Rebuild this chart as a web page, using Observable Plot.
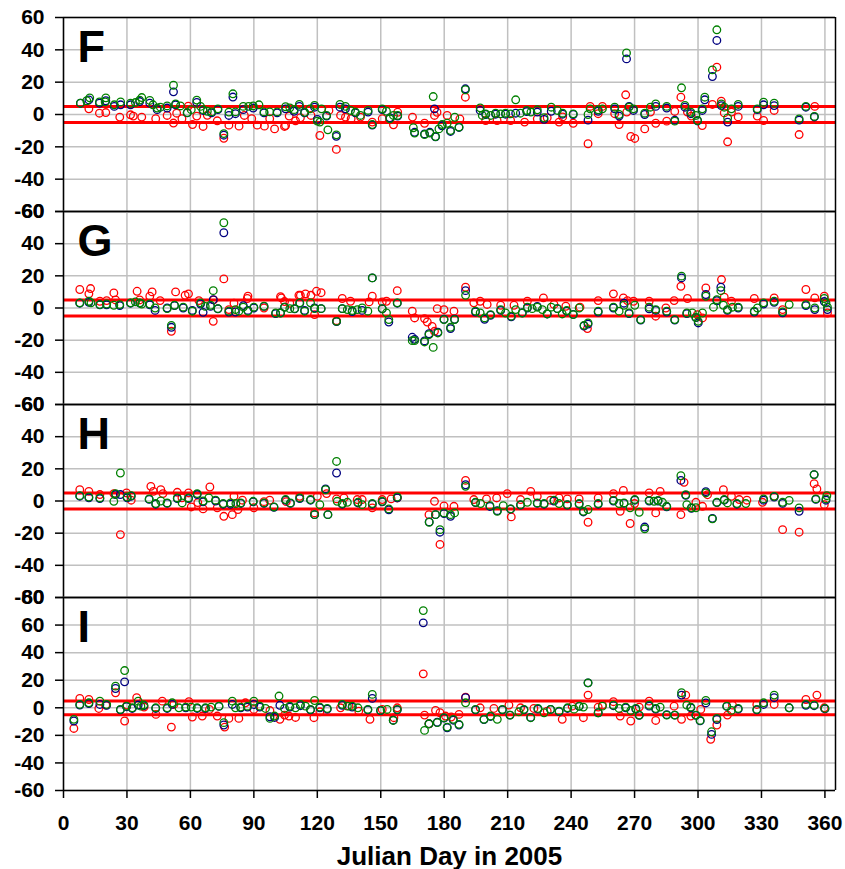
<!DOCTYPE html>
<html>
<head>
<meta charset="utf-8">
<script src="https://cdn.jsdelivr.net/npm/d3@7"></script>
<script src="https://cdn.jsdelivr.net/npm/@observablehq/plot@0.6"></script>
<style>
  body { margin: 0; background: #fff; }
  #chart { position: relative; width: 845px; height: 869px; overflow: hidden; background: #fff; }
  #chart svg { position: absolute; left: 0; }
</style>
</head>
<body>
<div id="chart"></div>
<script>
// Daily differences [Julian day, value] for stations F, G, H, I (three series each)
const F_red = [[12,3.5],[17,0.8],[20,1.2],[26.6,-1.6],[31.7,-0.2],[33,-1],[37,-1.6],[43.6,-2.6],[49,-0.6],[52,-5.3],[53.5,0.8],[56,-2.6],[59,5.2],[61,-6.2],[63,-1],[66,-7.4],[68,-0.5],[72.7,-3.9],[75.8,-14.7],[78.2,-6.6],[83,-7.2],[85.5,-0.6],[89,-2.6],[91.6,-6.6],[95,-7.2],[97.5,-2.6],[99.8,-8.9],[104.5,-7.4],[105,-6.8],[106.7,-1],[109.7,-3.9],[112,-2],[117,-0.6],[121.2,-13],[125.5,2.5],[129,-21.6],[131,-0.6],[133.3,-1.6],[136,-2.6],[140.4,-1.6],[146,-4.7],[150.7,-2.6],[156,-6.4],[158,1.4],[165,-1.6],[170.7,-5.4],[175.4,-0.6],[176.6,1.4],[181.4,-0.6],[187.4,-2.7],[190,10.7],[199.6,-3.7],[205,-3.7],[211.4,-3.7],[218,-4.7],[224,-2.7],[228.7,-2],[234.3,-4.7],[236,-1.5],[241,-5.4],[248,-18.1],[249,5],[252.8,0.5],[254.8,5],[260.6,0.5],[262.7,-6.2],[265.8,12.2],[266.3,1.5],[268.2,-13.6],[270.1,-14.8],[274.8,-8.9],[277.5,1.5],[280,-5.4],[285.2,-4.1],[289,1.9],[291.9,10.7],[295,1.5],[296.8,-1],[302,-6.8],[306.8,6.2],[308.9,29.3],[311,8.3],[312.4,1],[314,-16.9],[315.8,1.5],[319,-1.5],[328,-1],[331,-3.7],[336,2.5],[347.8,-12.4],[355.2,5]];
const F_blue = [[8,7],[12,9],[17,7],[20,8.5],[24,5],[27,6],[31.7,6],[36,8],[40.8,7],[44.3,3],[49,4],[52,14],[53,6],[58.5,1],[63,7.5],[66,2.5],[70,1],[73,3],[75.8,-12.8],[78.2,-0.6],[80.1,10.8],[81.3,0.5],[85,3],[89.7,4],[94.8,1],[101,1],[105,3.5],[109,2],[111.5,5],[114,1],[118.7,4.5],[120,-3],[124.4,-1],[129,-13.5],[130.7,4.5],[133.3,3.5],[138,1],[144,1.5],[146,-6.5],[150.7,3],[154.3,-2],[158,-1],[166,-11],[170.7,-12],[173.2,-11],[175.4,3.5],[175.9,-13.8],[179,-7],[183,-10.5],[187,-8],[190,15.9],[197,2.5],[199.6,0],[204.3,0.2],[209,0.2],[213.8,0.8],[219,1.8],[224,1.5],[227.2,-3],[230.6,2],[236,0.2],[241,0],[248,-3.5],[252.8,2],[260.6,3.5],[262.7,-1],[266.2,34.4],[267.4,5],[269.5,2.5],[274.8,0],[280,5],[285.2,4],[289,-3.5],[293.8,4.5],[296.6,0.5],[299.8,-4],[302,2.5],[303.2,9.1],[306.8,23.5],[308.9,45.8],[311,5.5],[314,-4.7],[319,5],[328,3],[331,6],[336,5.5],[347.8,-3.5],[351,4.5],[355,-1.5]];
const F_green = [[8,7],[11,8.5],[12.4,10.3],[17,7.8],[20,10.3],[19.7,7.8],[24,6],[27,7.8],[31.7,7],[34,7.4],[36,8.9],[37,10.5],[40.8,8.7],[42.3,6],[44.3,4],[45.8,4.5],[49,5.3],[52,18.1],[53,6.5],[55.3,5.3],[58.5,1.2],[60.4,3],[63,8.9],[64.8,5],[66,3],[68,2],[70,1.6],[73,3.5],[75.8,-11.8],[78.2,1.5],[80.1,12.8],[81.3,1.6],[85,5],[87.5,5],[89.7,5.3],[92.4,6],[94.8,1.6],[97.5,1.6],[101,1.6],[105,4.8],[107,4.1],[109,3],[111.5,6.2],[114,1.4],[116.5,3.5],[118.7,5.6],[120,-4.1],[121.2,-4.7],[122,3.5],[124.4,-0.6],[125,-9.5],[129,-12.6],[130.7,6.2],[133.3,5],[135.7,2.5],[138,1.5],[140.4,-0.6],[144,2.5],[146,-6.2],[150.7,3.5],[152.7,2],[154.3,-2.7],[156,-0.6],[158,-0.6],[165.4,-8.2],[166,-11.5],[170.7,-12.4],[173.2,-11.5],[174.8,11.1],[175.9,-13.6],[177.5,-8.9],[179,-6.2],[181.4,-5.4],[183,-9.9],[185,-1.7],[187,-7.8],[190,15.3],[197,4.1],[198,-0.6],[199.6,0.4],[202,-0.6],[204.3,0.8],[206.7,0.4],[209,0.8],[211.4,0.4],[213.8,9.1],[216,0.8],[219,2.5],[221,1.5],[224,2.9],[227.2,-2],[230.6,4.5],[233.5,2.5],[236,0.8],[241,0.4],[248,0],[249,3.5],[252.8,2.9],[254.8,3.5],[260.6,4.5],[262.7,0],[266.2,38.1],[267.4,4.5],[269.5,3.5],[274.8,0.8],[277.5,4.5],[280,6.6],[285.2,5],[289,-4.1],[292.2,16.5],[293.8,5.6],[296.6,1.4],[299,-0.6],[299.8,-3.7],[302,3.5],[303.2,10.7],[306.8,27.6],[308.9,52.4],[311,6.6],[312.4,4.5],[314,-2.1],[315.8,3.5],[319,6.2],[328,3.5],[331,7.6],[336,7],[347.8,-2.7],[351,5],[355,-1.2]];

const G_red = [[7.7,11.5],[12,8.8],[12.8,12.1],[17.2,4.2],[20.4,4.6],[23.8,9.4],[24.6,5],[34.8,10.4],[36,5],[40.8,7.3],[41.9,10],[45.7,4.6],[51,-14.5],[53,10],[57.5,7.9],[59.1,8.8],[64,4.6],[70.8,-8.3],[71,5],[75.8,18.1],[78.2,-1],[80.6,3],[86.9,5.9],[87.2,7.3],[94.8,0],[102.6,7],[103,6.3],[104.5,4],[107,3],[111.3,7.9],[112,7.9],[114.4,8.8],[117,7.9],[118.7,-4.1],[119.6,10.4],[121.8,9.5],[129.1,-7.9],[131.8,5.9],[135.7,4.2],[144.5,3.8],[146,7.3],[150.7,3.8],[152.7,4.2],[157.8,10.8],[164.9,-2],[166,-6.2],[170.7,-6.6],[172,-8.7],[174.3,-11.4],[175.4,-14.5],[176.7,-0.4],[179.9,-1],[184.6,-2],[190.1,12.9],[194,3.2],[197,4.2],[200.3,2.2],[206.7,1.7],[213,1.7],[219.3,4.2],[226.9,6.3],[231.9,2.2],[237.5,1.1],[244.2,0.5],[247.7,-12.8],[252.8,4.6],[260,8.8],[264.7,6.3],[266.6,4.6],[269.5,4.2],[276.9,4.2],[280,-5.1],[284.8,0],[288.7,4.6],[291.9,13.5],[295,5.9],[299.7,-4.1],[302.1,-6.2],[303.7,12.5],[311.1,17.7],[312.4,6.7],[315.8,4.2],[326.6,5.9],[336,6.3],[340,-1],[351,11.5],[355.2,6.3],[359.7,7.3],[361.2,-3.1]];
const G_blue = [[7.7,3],[12,3.5],[17.2,2],[20.4,2],[26.6,1.5],[31.7,3],[36.1,3],[40.8,2],[43.3,-1.5],[49,0],[51,-12],[52.5,1.5],[56.6,0],[60.9,-1.5],[64.8,2.5],[66,-2.7],[69.5,1],[70.8,5.2],[73,-0.5],[75.8,46.8],[78.2,-2.5],[81.3,-2.5],[85,1.5],[87.2,-1.5],[90,0],[94.8,1],[100.3,-3.5],[102.6,-3],[104.5,0.5],[109.3,-0.5],[111.7,3],[114,-1.5],[118.7,0],[121.8,-0.4],[129.1,-8.5],[131.8,-0.4],[136.5,-2.2],[141.2,-1.5],[146,18.7],[150.7,-0.5],[153.8,-8.7],[157.8,3],[164.9,-18.2],[166,-19.5],[170.7,-20.5],[172.8,-16],[177,-15],[179.9,-7],[183,-12.8],[184.9,-7],[190.1,10.8],[194.8,-2.5],[199.1,-7],[201.9,-4.5],[206.7,-1.5],[211.7,-5.5],[216.9,-3],[219.3,0],[224,1],[228.7,-3.7],[233.5,-0.4],[237.9,-2],[241,-4],[246.1,-11.2],[248,-10],[252.8,-2.5],[260,0],[265,3],[267.4,-3.5],[272.9,-7.5],[276.9,-0.5],[280,-1.5],[285.2,-2.5],[289,-7.5],[292.2,18.7],[294.7,-3.5],[299,-6],[300.1,-9.3],[303.7,8.4],[308.9,4.5],[310.8,12.9],[313.9,-1.5],[319,0],[326.6,-2.5],[331,2.5],[336,3.5],[340,-3],[351,1.5],[355.2,-1],[359.7,4],[361.2,-1]];
const G_green = [[7.7,3.2],[12,4.2],[13,3.2],[17.2,2.1],[20.4,2.5],[23.8,1.7],[26.6,2.1],[31.7,3.2],[34,3.8],[36.1,3.2],[37,2.5],[40.8,2.5],[43.3,0],[49,-0.4],[51,-10.8],[52.5,1.7],[56.6,0.5],[60.9,-2],[64.8,3.2],[67,1],[69.5,1.7],[70.8,10.8],[73,-0.4],[75.8,53],[78.2,-2],[81.3,-1],[82.9,-2],[85,0.5],[87.2,-2],[90,0.5],[94.8,1.1],[100.3,-3.1],[102.6,-3.1],[104.5,0.5],[107,-0.4],[109.3,-0.4],[111.7,3.2],[114,-2],[116.8,3.2],[118.7,-0.4],[121.8,-0.4],[129.1,-8.3],[131.8,-0.4],[134.2,-1],[136.5,-1.6],[138.9,-1],[141.2,0],[143.9,-2],[146,18.7],[150.7,-0.4],[152.7,-3.1],[153.8,-7.2],[157.8,3.2],[164.9,-20.3],[166,-20.3],[170.7,-21.1],[172.8,-16.6],[174.8,-24.5],[177,-15.5],[179.9,-7.2],[183,-12],[184.9,-7.2],[190.1,7.9],[194.8,-2],[197,-3.1],[199.1,-6.2],[201.9,-4.1],[206.7,-1],[209,-3.1],[211.7,-5.1],[213.8,-1],[216.9,-3.1],[219.3,0.5],[221.6,-0.4],[224,0.5],[226.4,-1],[228.7,-3.7],[230.6,0.5],[233.5,-0.4],[235.8,-3.7],[237.9,-1.6],[241,-4.1],[243.8,0],[246.1,-10.8],[248,-9.3],[252.8,-2],[260,0.5],[262.7,-2],[265,1.7],[267.4,-3.1],[270.1,1.7],[272.9,-7.2],[276.9,0.5],[280,-1],[285.2,-2],[289,-7.2],[292.2,19.8],[294.7,-3.1],[297.3,-3.1],[299,-5.8],[300.1,-8.3],[302.1,-3.1],[303.7,7.3],[307.3,0.5],[308.9,5.2],[310.8,10.8],[312,1.7],[313.9,-1],[316.3,0.5],[319,0.5],[326.6,-2],[328.1,0],[331,3.2],[336,4.2],[340,-2.4],[343.1,2.1],[351,2.1],[355.2,0],[359.7,5.9],[360.5,3.2],[361.2,0.5]];

const H_red = [[7.7,7],[12,6],[17.2,4],[23.8,4.6],[26.9,-20.9],[29.8,5],[32,0.5],[41.3,9.1],[42.5,6],[46,7],[47,4.6],[53.8,5.4],[56,2],[59.1,5],[60.4,-3.7],[63.5,-1],[66,-4.9],[69.2,8.7],[72.7,-4.2],[75.8,-9.5],[79.8,-8.5],[80.6,2.9],[82.5,-5.3],[84.6,0.5],[90,-4.2],[94.8,-0.4],[97.5,0.5],[105.3,-0.4],[111.7,2.9],[118.7,-7.4],[120,2.9],[124.4,4.6],[129.1,1.3],[132.6,1.9],[138.9,0.9],[141.2,0.9],[146,-4.3],[150.7,0.9],[154.9,1.3],[157.8,1.9],[172.8,-8.5],[175.4,-0.2],[178,-27],[179.9,-3],[184.6,-3.3],[190.1,12.8],[194,0.9],[200,1.3],[204.8,1.9],[209.8,4.6],[211.7,-9.9],[216.1,0.9],[220.9,6],[224,2.9],[230.3,0.5],[234.3,1.9],[238.2,1.3],[243.8,1.3],[248,-13.2],[252.8,1.9],[260,4.6],[263.2,-6.4],[264.7,6.6],[267.9,-14],[270,-1.6],[276.9,5],[280,-7.4],[282.1,6],[291.9,-8.5],[293.4,11.6],[299,-0.8],[302.1,-3.3],[304.5,3.9],[312,7],[315.8,2.9],[319.5,0.9],[323.1,0.5],[330.5,-0.8],[336,2.9],[340,-17.8],[347.8,-19.4],[354.9,10.8],[356.2,7.5],[359.7,-2.3]];
const H_blue = [[7.7,3],[12,2],[17.2,1.5],[24.6,4],[26.9,4],[30.1,2],[32,3],[40.5,1],[43.6,-2],[49,-1.5],[53.8,1.5],[59.1,1.5],[63.2,4],[66,-0.5],[71.9,0],[75.5,-2],[79,-2],[83.8,-1.5],[89.7,-0.5],[94.8,-1.5],[99.5,-3.9],[105,0.5],[107.3,-1.5],[111.7,1.5],[116.8,0.5],[118.7,-8.5],[123.9,7.5],[125,-8.5],[129.1,17.4],[131.8,-2],[139.2,-1.2],[146,-2],[150.7,-0.5],[153.8,-5.5],[157.8,2],[172.9,-13],[175.9,-8.5],[178,-19.4],[179.9,-7.8],[183,-9.5],[190.1,10.1],[194.8,-1],[201.6,-3.4],[205.1,-6],[211.4,-5],[216.1,-2.5],[224,-1.5],[227.2,-2],[231.9,0],[238.2,-2.5],[243.8,-2],[245.8,-6.8],[252.8,-2],[260,0],[265,-1.5],[270.1,0.5],[274.8,-16.2],[276.9,0],[281.1,0],[285.2,-3.6],[291.9,12.8],[294.2,3.5],[296.9,-4.5],[303.7,5.8],[306.8,-10.8],[308.9,-1],[312.4,0.5],[318.4,-2],[331,0.5],[336,2.5],[340,-1.5],[347.8,-6.4],[354.9,16.4],[355.7,1],[360.5,0.5]];
const H_green = [[7.7,3.3],[12,2.5],[17.2,1.9],[23.8,-0.2],[24.6,4.6],[26.9,17.4],[30.1,2.5],[32,3.3],[40.5,1.3],[43.6,-1.6],[46,0],[49,-1.2],[53.8,1.9],[56.1,-1.2],[59.1,1.9],[63.2,4.6],[66,0],[68.7,1.9],[71.9,0.5],[75.5,-1.6],[79,-1.2],[81.5,-1.6],[83.8,-1.2],[89.7,-0.2],[94.8,-1.2],[99.5,-3.7],[105,0.9],[107.3,-1.2],[111.7,1.9],[116.8,0.9],[118.7,-8.5],[121.2,-2.3],[123.9,7],[125,-8.5],[129.1,24.6],[129.4,-0.2],[131.8,-1.6],[134.2,-0.8],[139.2,-0.8],[141.2,-2.3],[146,-1.6],[150.7,-0.2],[153.8,-4.9],[157.8,2.5],[172.9,-13.2],[175.9,-8.5],[178,-17.8],[179.9,-7.4],[183,-8.5],[184.9,-7.4],[190.1,9.1],[194.8,-0.8],[197.2,-1.6],[201.6,-2.9],[205.1,-6.4],[207.9,-2.9],[211.4,-4.9],[216.1,-2.3],[219.3,-0.8],[224,-1.2],[227.2,-1.6],[231.9,0.5],[234.3,-1.6],[238.2,-2.3],[243.8,-1.6],[245.8,-6.4],[248,-5.3],[252.8,-1.6],[260,0.4],[262.7,-1.6],[265,-1.2],[267.9,-4.2],[270.1,0.9],[272.2,-7],[274.8,-17.3],[276.9,0.4],[279.2,-0.2],[281.1,0.4],[283.2,-0.8],[285.2,-3.3],[291.9,15.7],[294.2,3.9],[294.7,-2.3],[296.9,-4.2],[299,-4.2],[303.7,5],[306.8,-11.1],[308.9,-0.8],[312.4,0.9],[313.9,-1.2],[318.4,-1.6],[322.6,-1.6],[331,1.3],[336,2.9],[340,-0.8],[343.1,0.4],[347.8,-4.3],[354.9,16.4],[355.7,1.3],[360.5,1.3],[360.9,3.3]];

const I_red = [[4.9,-15],[7.7,6.8],[12,6],[16.7,-0.5],[20,2],[24.6,10.9],[28.9,-9.6],[30,2],[34.6,7.3],[38.1,0.5],[43.7,-4.8],[46.7,4.8],[51,-14],[52.2,2.4],[59.3,4.4],[60.9,-6.7],[65.6,-6],[69,-1.2],[72.7,-6],[76.2,-14],[78.2,-7.7],[82.9,-7.7],[86,3.6],[90,-1.2],[97.6,-2],[102.3,-8.4],[104.5,-5.3],[106.6,-6],[109.7,-7],[118.4,-7.2],[121.2,-2.9],[131,0],[135,1.2],[139.6,-2.4],[144.9,-8.4],[150.7,-1.2],[156.2,-7.2],[157.8,0],[170.1,24.6],[170.7,-5.3],[172.8,-11.6],[175.9,-1.9],[178,-3.6],[180.6,-6],[183.3,-6.7],[187,-4.8],[190.1,7.7],[197,0],[203.5,-0.5],[210.6,2],[216.1,0],[222.4,-0.5],[228.7,-2.4],[235.8,-8.4],[240.5,1.2],[245.8,-7.2],[248,9.2],[252.8,0.5],[254.8,2],[260,4.4],[263.2,-6],[268.2,-9.6],[272.2,0.5],[276.9,4.8],[280,-9.2],[288.7,1.2],[292.2,-8.4],[294.2,9.2],[296.6,-6],[301.3,-1.2],[306,-22.9],[308.9,-12.5],[313.9,-5.3],[316.3,1.9],[327.8,2.4],[336,2.4],[351,6],[356.2,9.2],[359.7,0]];
const I_blue = [[4.9,-9.6],[7.7,2],[12,3],[17.2,2.4],[20.4,1.8],[24.6,14],[26.9,-1.5],[28.9,18.8],[29.8,0.8],[32.5,-0.5],[35.3,2],[38,1.5],[43.6,-0.5],[49,-0.5],[51.4,2.5],[57.8,0],[63.2,-0.5],[67.1,-0.5],[73.5,1],[75.8,-12.5],[79.8,2.4],[83.8,0],[87,0.5],[90,2.4],[92.8,0.5],[97.6,-6.5],[99.8,-7],[102.3,1.8],[107,0.5],[112,1.5],[116.8,-1.5],[121.2,0],[124.7,-1],[131.8,1.8],[136.5,0.5],[143.9,-1.5],[146,6.8],[149.9,-2],[155.9,-9],[157.8,-1.5],[170.1,61.6],[172.8,-11.6],[176.7,-10.5],[179.9,-7.5],[181.4,-14.5],[184.3,-9],[187,-12.5],[190.1,7.3],[194.8,-1.5],[198.8,-8.5],[201.9,-6.3],[207.5,-1.5],[211.1,-5.3],[217.7,-1.5],[220.9,-7],[224.3,-1],[230.3,-1.2],[234.3,-2.8],[238.3,-0.5],[243.8,1],[248,18.1],[252.8,-3.6],[260,1.5],[265.8,0],[270.6,-1],[272.2,-5.5],[276.9,1.2],[280,-1],[285.2,-5],[289,-5.3],[292.2,9.2],[296.6,0],[299,-5.5],[301,-9.5],[303.7,3.5],[306.4,-19.3],[308.9,-8.5],[313.6,1],[319,-1],[327.8,-1.5],[331,2.4],[336,7.3],[343.1,0],[351,1.8],[354.9,1.5],[360,-0.8]];
const I_green = [[4.9,-8.4],[7.7,2.4],[12,3.6],[17.2,4.8],[20.4,2.4],[24.6,15.7],[26.9,-1.2],[28.9,27],[29.8,1.2],[32.5,0],[35.3,4.8],[36.6,1.2],[38,2],[43.6,0],[49,0],[51.4,3.6],[54.6,0],[57.8,0.5],[60.4,0.5],[63.2,0],[67.1,0],[69.8,0.5],[73.5,1.2],[75.8,-10.8],[79.8,4.8],[81.3,0],[83.8,0.5],[87,1.2],[90,4.8],[92.8,1.2],[95.5,-0.5],[97.6,-7.7],[99.8,-6],[101.9,8.5],[104.5,-0.5],[107,1.2],[109.7,0],[112,2.4],[114.4,1.2],[116.8,-1.2],[118.7,5.3],[121.2,0.5],[124.7,-0.5],[131.8,2.4],[134.2,1.2],[136.5,1.2],[139.2,0],[143.9,-1.2],[146,9.7],[149.9,-1.9],[153,-1.2],[155.9,-9.2],[157.8,-1.2],[170.1,70.5],[170.7,-16.4],[172.8,-11.6],[176.7,-10.8],[179.9,-7.2],[181.4,-14],[184.3,-8.4],[187,-12],[190.1,3.6],[194.8,-1.2],[198.8,-8.4],[201.9,-6],[205.1,-8.4],[207.5,-1.2],[211.1,-5.3],[215.3,-2.9],[217.7,-1.2],[220.9,-7.2],[224.3,-0.5],[227.2,-3.6],[230.3,-1.2],[234.3,-2.4],[238.3,0],[241.4,-1],[243.8,1.2],[245.8,0.5],[248,18.1],[252.8,-3.6],[254.8,1.2],[260,1.9],[262.7,-0.5],[265.8,0.5],[268.2,-2],[270.6,-0.5],[272.2,-5.3],[276.9,1.9],[280,-0.5],[282.1,0.5],[285.2,-5.3],[289,-5.3],[292.2,10.9],[294.7,1.9],[296.6,0.5],[299,-5.3],[301,-9.2],[303.7,5.3],[306.4,-17.4],[308.9,-7.7],[313.6,1.2],[315.8,-1.9],[319,-0.5],[327.8,-1.2],[331,3.6],[336,9.2],[343.1,0],[351,2.4],[354.9,1.9],[360,-0.5]];

const dayTicks = [0, 30, 60, 90, 120, 150, 180, 210, 240, 270, 300, 330, 360];
const limits = [-5, 5];
const xLabel = "Julian Day in 2005";

const panels = [
  {letter: "F", red: F_red, blue: F_blue, green: F_green, yMax: 60, top: 17, bottom: 211},
  {letter: "G", red: G_red, blue: G_blue, green: G_green, yMax: 60, top: 211, bottom: 404},
  {letter: "H", red: H_red, blue: H_blue, green: H_green, yMax: 60, top: 404, bottom: 597},
  {letter: "I", red: I_red, blue: I_blue, green: I_green, yMax: 80, top: 597, bottom: 790}
];

const chartDiv = document.getElementById("chart");
const pad = 12;
const font = "'Liberation Sans', Arial, Helvetica, sans-serif";
const dotOpts = {x: d => d[0], y: d => d[1], r: 3.8, strokeWidth: 1.3, fill: "none"};

panels.forEach((p, i) => {
  const last = i === panels.length - 1;
  const mb = last ? 869 - p.bottom : pad;
  const yTicks = d3.range(-60, p.yMax + 1, 20);
  const marks = [
    Plot.gridX({ticks: dayTicks, stroke: "#c0c0c0", strokeOpacity: 1, strokeWidth: 1.5}),
    Plot.gridY({ticks: yTicks, stroke: "#c0c0c0", strokeOpacity: 1, strokeWidth: 1.5}),
    Plot.ruleY(limits, {stroke: "#ff0000", strokeWidth: 3}),
    Plot.dot(p.red, {...dotOpts, stroke: "#ff0000"}),
    Plot.dot(p.blue, {...dotOpts, stroke: "#000080"}),
    Plot.dot(p.green, {...dotOpts, stroke: "#008000"}),
    Plot.ruleY([-60, p.yMax], {stroke: "#000", strokeWidth: 1.5}),
    Plot.ruleX([365], {stroke: "#000", strokeWidth: 1.5}),
    Plot.ruleX([0], {stroke: "#000", strokeWidth: 1.5}),
    Plot.axisY({ticks: yTicks, tickSize: 8, tickPadding: 11, fontSize: 21, fontWeight: "bold",
                tickFormat: d => String(d), stroke: "#000", strokeWidth: 1.5}),
    Plot.text([p.letter], {frameAnchor: "top-left", dx: 14, dy: 13, lineAnchor: "top",
                           textAnchor: "start", fontSize: 45, fontWeight: "bold", fill: "#000"})
  ];
  if (last) {
    marks.push(Plot.axisX({ticks: dayTicks, tickSize: 8, tickPadding: 17, fontSize: 21, fontWeight: "bold",
                           tickFormat: d => String(d), stroke: "#000", strokeWidth: 1.5}));
    marks.push(Plot.text([xLabel], {frameAnchor: "bottom", dy: 74, fontSize: 26, fontWeight: "bold", fill: "#000"}));
  }
  const svg = Plot.plot({
    width: 845,
    height: (p.bottom - p.top) + pad + mb,
    marginTop: pad,
    marginBottom: mb,
    marginLeft: 63,
    marginRight: 10,
    style: {background: "transparent", overflow: "visible", fontFamily: font, color: "#000"},
    x: {domain: [0, 365], axis: last ? undefined : null},
    y: {domain: [-60, p.yMax]},
    marks
  });
  svg.style.top = (p.top - pad) + "px";
  chartDiv.appendChild(svg);
});
</script>
</body>
</html>
